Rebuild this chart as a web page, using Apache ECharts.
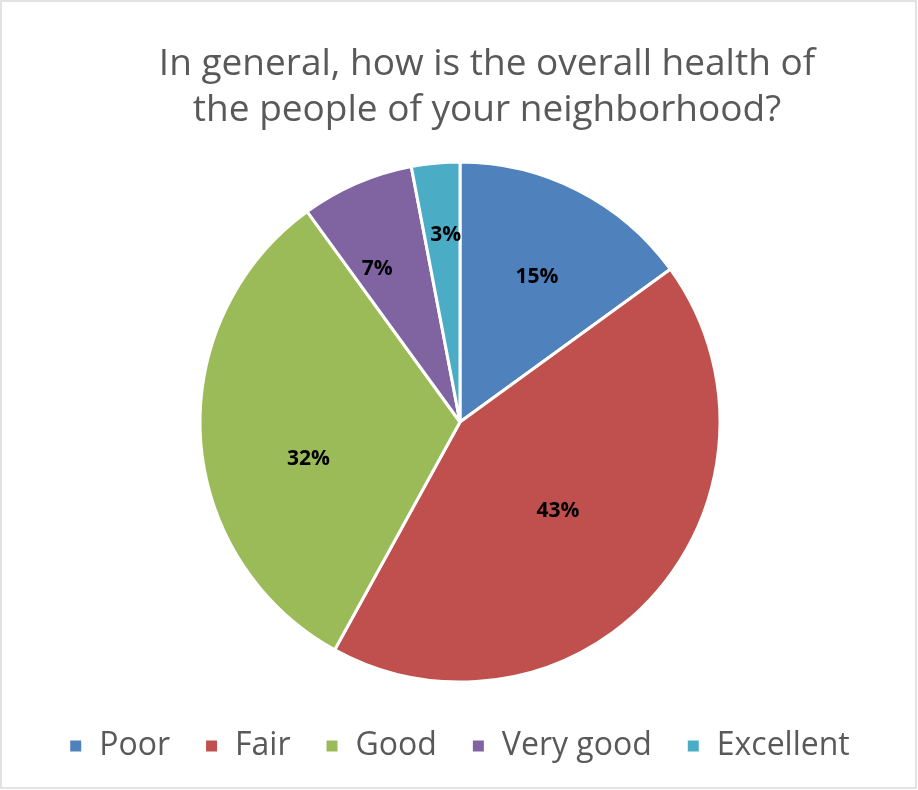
<!DOCTYPE html>
<html>
<head>
<meta charset="utf-8">
<script src="https://cdn.jsdelivr.net/npm/echarts@6/dist/echarts.min.js"></script>
<style>
  html, body { margin: 0; padding: 0; background: #fff; }
  #chart { width: 918px; height: 790px; }
</style>
</head>
<body>
<div id="chart"></div>
<script>
// Survey answers and their shares (percent)
const categories = ['Poor', 'Fair', 'Good', 'Very good', 'Excellent'];
const shares = [15, 43, 32, 7, 3];
const colors = ['#4F81BD', '#C0504D', '#9BBB59', '#8064A2', '#4BACC6'];

const titleText = 'In general, how is the overall health of\nthe people of your neighborhood?';

// Pie geometry (pixels)
const cx = 460, cy = 422, R = 260;
// Label placement: fraction of the radius and angular nudge (degrees) from the slice middle
const labelDepth = [0.63, 0.51, 0.60, 0.67, 0.72];
const labelTurn = [1, 1, -10, -5, 1];

const total = shares.reduce((a, b) => a + b, 0);
const midAngles = [];
let acc = 0;
shares.forEach(v => {
  midAngles.push(((acc + v / 2) / total) * 2 * Math.PI);
  acc += v;
});

const chart = echarts.init(document.getElementById('chart'), null, { renderer: 'canvas' });

chart.setOption({
  animation: false,
  backgroundColor: '#ffffff',
  color: colors,
  title: {
    text: titleText,
    left: 482,
    top: 36,
    textAlign: 'center',
    textStyle: {
      fontFamily: 'Open Sans',
      fontSize: 37,
      fontWeight: 'normal',
      color: '#595959',
      lineHeight: 46
    }
  },
  legend: {
    bottom: 23,
    left: 'center',
    itemWidth: 13,
    itemHeight: 13,
    itemGap: 34,
    icon: 'rect',
    textStyle: {
      fontFamily: 'Open Sans',
      fontSize: 32,
      color: '#595959',
      padding: [0, 0, 0, 12]
    },
    data: categories
  },
  graphic: [{
    type: 'rect',
    shape: { x: 1, y: 1, width: 915, height: 787 },
    style: { fill: 'none', stroke: '#D9D9D9', lineWidth: 1.5 },
    silent: true
  }],
  series: [{
    type: 'pie',
    center: [cx, cy],
    radius: [0, R],
    startAngle: 90,
    clockwise: true,
    itemStyle: { borderColor: '#ffffff', borderWidth: 3 },
    label: {
      show: true,
      position: 'inside',
      formatter: p => p.value + '%',
      fontFamily: 'Open Sans',
      fontWeight: 'bold',
      fontSize: 21,
      color: '#000000'
    },
    labelLine: { show: false },
    labelLayout: p => {
      const i = p.dataIndex;
      const a = midAngles[i] + labelTurn[i] * Math.PI / 180;
      const r = R * labelDepth[i];
      return {
        x: cx + r * Math.sin(a),
        y: cy - r * Math.cos(a),
        align: 'center',
        verticalAlign: 'middle'
      };
    },
    data: categories.map((name, i) => ({ name, value: shares[i] }))
  }]
});
</script>
</body>
</html>
